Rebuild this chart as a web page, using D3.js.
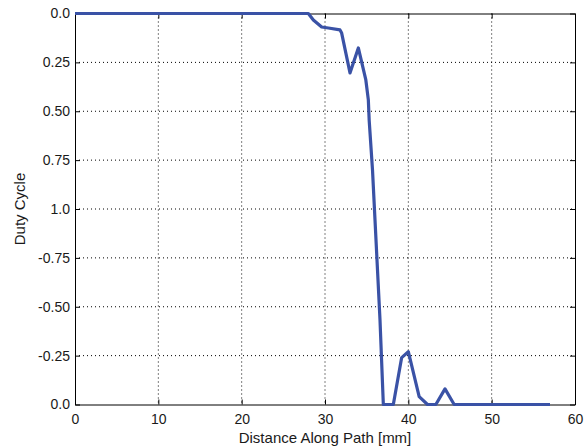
<!DOCTYPE html>
<html><head><meta charset="utf-8">
<script src="https://cdn.jsdelivr.net/npm/d3@7"></script>
<style>body{margin:0;background:#fff}svg{display:block}text{font-family:"Liberation Sans",Arial,sans-serif}</style>
</head><body>
<script>
// Data (x in mm, y in axis position units: 0 = top, 2 = bottom)
const distance = [0, 28.0, 28.6, 29.6, 30.4, 31.8, 32.0, 33.0, 34.0, 34.9, 35.2, 35.3, 35.7, 36.0, 36.3, 36.6, 37.0, 38.2, 39.2, 40.0, 41.3, 42.3, 43.3, 44.4, 45.5, 57.0];
const duty     = [0, 0, 0.033, 0.069, 0.074, 0.084, 0.10, 0.304, 0.176, 0.34, 0.442, 0.545, 0.80, 1.056, 1.312, 1.568, 2.0, 2.0, 1.76, 1.73, 1.96, 2.0, 2.0, 1.92, 2.0, 2.0];
const xTicks = [0, 10, 20, 30, 40, 50, 60];
const yTicks = [0, 0.25, 0.5, 0.75, 1.0, 1.25, 1.5, 1.75, 2.0];
const yTickLabels = ["0.0", "0.25", "0.50", "0.75", "1.0", "-0.75", "-0.50", "-0.25", "0.0"];

const W = 587, H = 448;
const m = {left: 75, right: 12, top: 13.5, bottom: 43.5};
const svg = d3.select("body").append("svg").attr("width", W).attr("height", H);
const x = d3.scaleLinear().domain([0, 60]).range([m.left, W - m.right]);
const y = d3.scaleLinear().domain([0, 2]).range([m.top, H - m.bottom]);

const g = svg.append("g");
// grid
g.selectAll(".gx").data(xTicks.slice(1, -1)).join("line")
  .attr("x1", d => x(d)).attr("x2", d => x(d)).attr("y1", y(0)).attr("y2", y(2))
  .attr("stroke", "#000").attr("stroke-width", 1).attr("stroke-dasharray", "1,3");
g.selectAll(".gy").data(yTicks.slice(1, -1)).join("line")
  .attr("y1", d => y(d)).attr("y2", d => y(d)).attr("x1", x(0)).attr("x2", x(60))
  .attr("stroke", "#000").attr("stroke-width", 1).attr("stroke-dasharray", "1,3");

// axes with inward ticks
const fmtY = (d, i) => yTickLabels[i];
const axB = svg.append("g").attr("transform", `translate(0,${y(2)})`)
  .call(d3.axisBottom(x).tickValues(xTicks).tickSizeInner(-5).tickSizeOuter(0).tickPadding(10));
const axT = svg.append("g").attr("transform", `translate(0,${y(0)})`)
  .call(d3.axisTop(x).tickValues(xTicks).tickSizeInner(-5).tickSizeOuter(0).tickFormat(""));
const axL = svg.append("g").attr("transform", `translate(${x(0)},0)`)
  .call(d3.axisLeft(y).tickValues(yTicks).tickFormat(fmtY).tickSizeInner(-5).tickSizeOuter(0).tickPadding(5));
const axR = svg.append("g").attr("transform", `translate(${x(60)},0)`)
  .call(d3.axisRight(y).tickValues(yTicks).tickFormat("").tickSizeInner(-5).tickSizeOuter(0));
[axB, axT, axL, axR].forEach(a => {
  a.select(".domain").attr("stroke", "#000").attr("stroke-width", 1);
  a.selectAll(".tick line").attr("stroke", "#000");
  a.selectAll("text").attr("font-size", 14).attr("fill", "#1a1a1a").attr("font-family", "Liberation Sans, Arial, sans-serif");
});

// line
svg.append("path").datum(distance.map((d, i) => [d, duty[i]]))
  .attr("fill", "none").attr("stroke", "#3a52a6").attr("stroke-width", 3.2)
  .attr("stroke-linejoin", "round")
  .attr("d", d3.line().x(d => x(d[0])).y(d => y(d[1])));

// labels
svg.append("text").attr("x", (x(0) + x(60)) / 2).attr("y", 443).attr("text-anchor", "middle")
  .attr("font-size", 15).attr("fill", "#1a1a1a").text("Distance Along Path [mm]");
svg.append("text").attr("transform", `translate(25,${(y(0) + y(2)) / 2}) rotate(-90)`)
  .attr("text-anchor", "middle").attr("font-size", 15).attr("fill", "#1a1a1a").text("Duty Cycle");
</script>
</body></html>
